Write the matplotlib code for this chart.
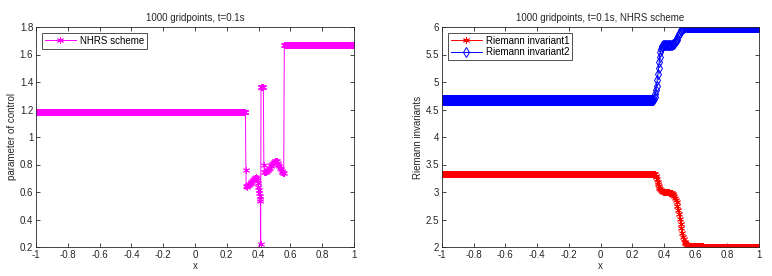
import numpy as np
import matplotlib
matplotlib.use("Agg")
import matplotlib.pyplot as plt

plt.rcParams['font.family'] = ['Liberation Sans', 'DejaVu Sans']
plt.rcParams['font.size'] = 7

# grid used by the solver (plateaus are constant states on it)
x_grid = np.linspace(-1, 1, 1000)

# --- left panel: parameter of control ---
u_left_state = 1.182
u_right_state = 1.667
u_left_end = 0.318
u_right_start = 0.560
u_trans_x = [0.320, 0.322, 0.326, 0.330, 0.335, 0.340, 0.345, 0.350, 0.355, 0.360,
             0.365, 0.370, 0.375, 0.380, 0.384, 0.388, 0.391, 0.394, 0.397, 0.400,
             0.403, 0.406, 0.409, 0.411, 0.413, 0.415, 0.418, 0.421, 0.424, 0.427,
             0.430, 0.433, 0.436, 0.440, 0.445, 0.450, 0.455, 0.460, 0.465, 0.470,
             0.475, 0.480, 0.485, 0.490, 0.495, 0.500, 0.505, 0.510, 0.515, 0.520,
             0.525, 0.530, 0.535, 0.540, 0.545, 0.550, 0.555, 0.558]
u_trans = [0.758, 0.645, 0.640, 0.645, 0.648, 0.652, 0.657, 0.663, 0.670, 0.678,
           0.686, 0.694, 0.700, 0.705, 0.708, 0.700, 0.685, 0.665, 0.640, 0.615,
           0.590, 0.570, 0.550, 0.535, 0.222, 1.365, 1.365, 1.365, 1.365, 1.365,
           1.365, 0.800, 0.745, 0.745, 0.748, 0.752, 0.757, 0.763, 0.770, 0.778,
           0.787, 0.796, 0.805, 0.813, 0.820, 0.826, 0.829, 0.828, 0.822, 0.812,
           0.800, 0.788, 0.776, 0.765, 0.755, 0.746, 0.740, 0.735]

# --- right panel: Riemann invariants ---
w1_left_state = 3.333
w1_right_state = 2.0
w1_left_end = 0.340
w1_right_start = 0.555
w1_trans_x = [0.344, 0.348, 0.352, 0.356, 0.360, 0.364, 0.368, 0.372, 0.376, 0.380,
              0.385, 0.390, 0.395, 0.400, 0.405, 0.410, 0.415, 0.420, 0.425, 0.430,
              0.435, 0.440, 0.445, 0.450, 0.455, 0.460, 0.465, 0.470, 0.475, 0.480,
              0.485, 0.490, 0.495, 0.500, 0.505, 0.510, 0.515, 0.520, 0.525, 0.530,
              0.535, 0.540, 0.545, 0.550]
w1_trans = [3.32, 3.30, 3.27, 3.23, 3.19, 3.15, 3.11, 3.08, 3.05, 3.03,
            3.02, 3.01, 3.005, 3.0, 3.0, 3.0, 3.0, 3.0, 3.0, 2.995,
            2.99, 2.99, 2.985, 2.98, 2.97, 2.95, 2.93, 2.90, 2.86, 2.81,
            2.75, 2.68, 2.60, 2.51, 2.42, 2.34, 2.26, 2.19, 2.14, 2.10,
            2.07, 2.05, 2.035, 2.03]
w1_shelf_end = 0.650
w1_shelf = 2.02

w2_left_state = 4.667
w2_right_state = 6.0
w2_left_end = 0.330
w2_right_start = 0.545
w2_trans_x = [0.334, 0.338, 0.342, 0.346, 0.350, 0.354, 0.358, 0.362, 0.366, 0.370,
              0.374, 0.378, 0.382, 0.386, 0.390, 0.395, 0.400, 0.405, 0.410, 0.415,
              0.420, 0.425, 0.430, 0.435, 0.440, 0.445, 0.450, 0.455, 0.460, 0.465,
              0.470, 0.475, 0.480, 0.485, 0.490, 0.495, 0.500, 0.505, 0.510, 0.515,
              0.520, 0.525, 0.530, 0.535, 0.540]
w2_trans = [4.68, 4.70, 4.73, 4.78, 4.85, 4.93, 5.03, 5.14, 5.25, 5.36,
            5.46, 5.54, 5.60, 5.635, 5.655, 5.665, 5.67, 5.67, 5.67, 5.67,
            5.67, 5.67, 5.67, 5.67, 5.67, 5.675, 5.68, 5.685, 5.69, 5.70,
            5.72, 5.74, 5.77, 5.80, 5.84, 5.87, 5.90, 5.93, 5.95, 5.97,
            5.98, 5.99, 5.995, 5.998, 6.0]


def assemble(left_end, left_val, tx, ty, right_start, right_val):
    xl = x_grid[x_grid <= left_end]
    xr = x_grid[x_grid >= right_start]
    x = np.r_[xl, tx, xr]
    y = np.r_[np.full(len(xl), left_val), ty, np.full(len(xr), right_val)]
    return x, y


ux, uy = assemble(u_left_end, u_left_state, u_trans_x, u_trans, u_right_start, u_right_state)

w1x, w1y = assemble(w1_left_end, w1_left_state, w1_trans_x, w1_trans, w1_right_start, w1_right_state)
w1y[(w1x >= w1_right_start) & (w1x <= w1_shelf_end)] = w1_shelf

w2x, w2y = assemble(w2_left_end, w2_left_state, w2_trans_x, w2_trans, w2_right_start, w2_right_state)

asterisk = (6, 2, 0)
text_col = '#262626'
xtick_labels = ['-1', '-0.8', '-0.6', '-0.4', '-0.2', '0', '0.2', '0.4', '0.6', '0.8', '1']

fig = plt.figure(figsize=(7.72, 2.76), dpi=100)
ax1 = fig.add_axes([36 / 772, 29 / 276, 318 / 772, 220 / 276])
ax2 = fig.add_axes([442 / 772, 29 / 276, 317 / 772, 220 / 276])

ax1.plot(ux, uy, color='#ff00ff', lw=0.7, marker=asterisk, ms=5, mew=0.6,
         label='NHRS scheme')
ax1.set_xlim(-1, 1)
ax1.set_ylim(0.2, 1.8)
ax1.set_xticks(np.arange(-1, 1.01, 0.2))
ax1.set_xticklabels(xtick_labels)
ax1.set_yticks(np.arange(0.2, 1.81, 0.2))
ax1.set_yticklabels(['0.2', '0.4', '0.6', '0.8', '1', '1.2', '1.4', '1.6', '1.8'])
ax1.set_title('1000 gridpoints, t=0.1s', fontsize=7, pad=4, color=text_col)
ax1.set_xlabel('x', labelpad=1, color=text_col)
ax1.set_ylabel('parameter of control', labelpad=2, color=text_col)

ax2.plot(w1x, w1y, color='#ff0000', lw=0.7, marker=asterisk, ms=5, mew=0.6,
         label='Riemann invariant1')
ax2.plot(w2x, w2y, color='#0000ff', lw=0.7, marker='d', ms=5, mew=0.7,
         mfc='none', label='Riemann invariant2')
ax2.set_xlim(-1, 1)
ax2.set_ylim(2, 6)
ax2.set_xticks(np.arange(-1, 1.01, 0.2))
ax2.set_xticklabels(xtick_labels)
ax2.set_yticks(np.arange(2, 6.01, 0.5))
ax2.set_yticklabels(['2', '2.5', '3', '3.5', '4', '4.5', '5', '5.5', '6'])
ax2.set_title('1000 gridpoints, t=0.1s, NHRS scheme', fontsize=7, pad=4, color=text_col)
ax2.set_xlabel('x', labelpad=1, color=text_col)
ax2.set_ylabel('Riemann invariants', labelpad=2, color=text_col)

for ax in (ax1, ax2):
    ax.tick_params(direction='in', top=True, right=True, length=3, width=0.6,
                   labelsize=7, pad=2, colors=text_col)
    for s in ax.spines.values():
        s.set_linewidth(0.6)
        s.set_color(text_col)
    leg = ax.legend(loc='upper left', fontsize=7, frameon=True, fancybox=False,
                    borderpad=0.3, handlelength=3.2, handletextpad=0.4,
                    labelspacing=0.15, borderaxespad=0.6, numpoints=1)
    leg.get_frame().set_edgecolor('black')
    leg.get_frame().set_linewidth(0.6)

fig.savefig('out.png', dpi=100)
